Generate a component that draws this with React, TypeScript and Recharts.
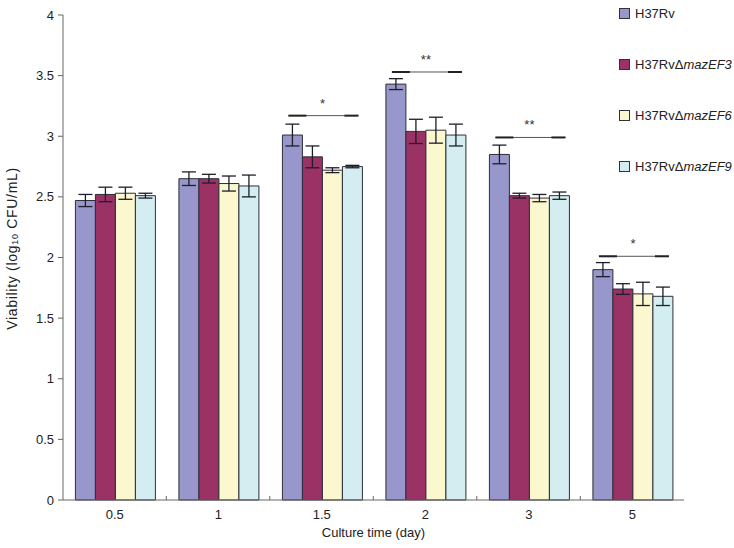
import React from 'react';
import { BarChart, Bar, XAxis, YAxis, ErrorBar, Legend, LabelList } from 'recharts';

const categories = ['0.5', '1', '1.5', '2', '3', '5'];
const h37rv = [2.47, 2.65, 3.01, 3.43, 2.85, 1.9];
const h37rvErr = [0.05, 0.056, 0.09, 0.045, 0.077, 0.058];
const ef3 = [2.52, 2.65, 2.83, 3.04, 2.51, 1.74];
const ef3Err = [0.06, 0.036, 0.09, 0.1, 0.02, 0.044];
const ef6 = [2.53, 2.61, 2.72, 3.05, 2.49, 1.7];
const ef6Err = [0.05, 0.062, 0.02, 0.107, 0.03, 0.096];
const ef9 = [2.51, 2.59, 2.75, 3.01, 2.51, 1.68];
const ef9Err = [0.02, 0.09, 0.01, 0.09, 0.03, 0.076];
const sigLevel: (number | null)[] = [null, null, 3.17, 3.53, 2.99, 2.01];
const sigMark = ['', '', '*', '**', '**', '*'];
const yTicks = [0, 0.5, 1, 1.5, 2, 2.5, 3, 3.5, 4];

const series = [
  { key: 'h37rv', err: 'h37rvErr', name: 'H37Rv', suffix: '', color: '#9797cb' },
  { key: 'ef3', err: 'ef3Err', name: 'H37RvΔ', suffix: 'mazEF3', color: '#9b3265' },
  { key: 'ef6', err: 'ef6Err', name: 'H37RvΔ', suffix: 'mazEF6', color: '#fbf8cf' },
  { key: 'ef9', err: 'ef9Err', name: 'H37RvΔ', suffix: 'mazEF9', color: '#d3edf1' },
];

const data = categories.map((c, i) => ({
  day: c,
  h37rv: h37rv[i], h37rvErr: h37rvErr[i],
  ef3: ef3[i], ef3Err: ef3Err[i],
  ef6: ef6[i], ef6Err: ef6Err[i],
  ef9: ef9[i], ef9Err: ef9Err[i],
}));

const FONT = 'Arial, "Liberation Sans", Helvetica, sans-serif';
const GAP = 0.12;

const renderGroupDecor = (props: any) => {
  const { x, y, width, height, index, value } = props;
  const base = Number(y) + Number(height);
  const w = Number(width);
  const bw = (4 * w) / (1 - 2 * GAP);
  const bandStart = Number(x) - GAP * bw;
  const lvl = sigLevel[index];
  const tick =
    index > 0 ? (
      <line x1={bandStart} x2={bandStart} y1={base} y2={base - 4} stroke="#666" strokeWidth={1} />
    ) : null;
  if (lvl == null) return <g key={`d-${index}`}>{tick}</g>;
  const ppu = Number(height) / Number(value);
  const ly = base - lvl * ppu;
  const x1 = Number(x) + w * 0.3;
  const x2 = Number(x) + 4 * w - w * 0.2;
  const cx = Number(x) + 2 * w;
  return (
    <g key={`d-${index}`}>
      {tick}
      <line x1={x1} x2={x2} y1={ly} y2={ly} stroke="#555" strokeWidth={1} />
      <line x1={x1} x2={x1 + 18} y1={ly} y2={ly} stroke="#222" strokeWidth={2} />
      <line x1={x2 - 14} x2={x2} y1={ly} y2={ly} stroke="#222" strokeWidth={2} />
      <text x={cx} y={ly - 8} textAnchor="middle" fontSize={13} fill="#333" fontFamily={FONT}>
        {sigMark[index]}
      </text>
    </g>
  );
};

const renderLegend = () => (
  <div style={{ fontFamily: FONT, fontSize: 13, color: '#222' }}>
    {series.map((s) => (
      <div key={s.key} style={{ display: 'flex', alignItems: 'center', height: 51, marginTop: 0 }}>
        <span
          style={{
            display: 'inline-block',
            width: 9,
            height: 9,
            background: s.color,
            border: '1px solid #333',
            marginRight: 5,
          }}
        />
        <span>
          {s.name}
          {s.suffix && <i>{s.suffix}</i>}
        </span>
      </div>
    ))}
  </div>
);

const YLabel = (props: any) => {
  const vb = props.viewBox || { x: 0, y: 15, width: 63, height: 485 };
  const cx = 12;
  const cy = vb.y + vb.height / 2 - 9;
  return (
    <text
      x={cx}
      y={cy}
      transform={`rotate(-90, ${cx}, ${cy})`}
      textAnchor="middle"
      dominantBaseline="central"
      fontSize={14}
      letterSpacing={0.7}
      fill="#222"
      fontFamily={FONT}
    >
      Viability (log
      <tspan fontSize={9} dy={3}>10</tspan>
      <tspan dy={-3}> CFU/mL)</tspan>
    </text>
  );
};

export default function App() {
  return (
    <div style={{ position: 'absolute', left: 0, top: 0, width: 734, height: 548, background: '#fff' }}>
      <BarChart
        width={734}
        height={548}
        data={data}
        margin={{ top: 15, right: 50, bottom: 0, left: 0 }}
        barCategoryGap={`${GAP * 100}%`}
        barGap={0}
      >
        <XAxis
          dataKey="day"
          height={48}
          tickLine={false}
          tickSize={0}
          tickMargin={10}
          axisLine={{ stroke: '#666' }}
          tick={{ fontSize: 13, fill: '#222', fontFamily: FONT }}
          label={{ value: 'Culture time (day)', position: 'insideBottom', offset: 11, fontSize: 13, fill: '#222', fontFamily: FONT }}
        />
        <YAxis
          width={63}
          domain={[0, 4]}
          ticks={yTicks}
          interval={0}
          tickSize={5}
          tickMargin={4}
          axisLine={{ stroke: '#666' }}
          tickLine={{ stroke: '#666' }}
          tick={{ fontSize: 13, fill: '#222', fontFamily: FONT }}
          label={<YLabel />}
        />
        <Legend
          layout="vertical"
          align="center"
          verticalAlign="middle"
          content={renderLegend}
          wrapperStyle={{ left: 619, top: -12, width: 115, height: 210 }}
        />
        {series.map((s, si) => (
          <Bar
            key={s.key}
            dataKey={s.key}
            name={s.name + s.suffix}
            fill={s.color}
            stroke="#2e2e3a"
            strokeWidth={1}
            isAnimationActive={false}
          >
            <ErrorBar dataKey={s.err} width={7} stroke="#1e1e2a" strokeWidth={1.3} direction="y" />
            {si === 0 && <LabelList dataKey={s.key} content={renderGroupDecor} />}
          </Bar>
        ))}
      </BarChart>
    </div>
  );
}
